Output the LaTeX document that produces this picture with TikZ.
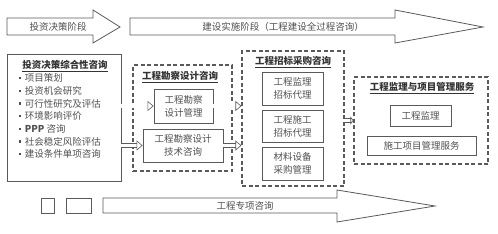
\documentclass[tikz,border=0pt]{standalone}
\usepackage{fontspec}
\setmainfont{Noto Sans CJK SC}
\usetikzlibrary{arrows.meta,positioning}
\definecolor{linegray}{HTML}{5A5A5A}
\definecolor{txtgray}{HTML}{505050}

\tikzset{
  box/.style={draw=linegray, line width=0.8pt, align=center, inner sep=0pt,
    font=\fontsize{9.5}{13}\selectfont, text=txtgray},
  group/.style={draw=linegray, line width=1.1pt, dash pattern=on 4pt off 2.5pt, inner sep=0pt},
  title/.style={font=\fontsize{9.5}{12}\selectfont\bfseries, text=black!80, inner sep=0pt},
  item/.style={font=\fontsize{9.5}{12}\selectfont, text=txtgray, inner sep=0pt, anchor=west},
  stage/.style={draw=linegray, line width=0.8pt, fill=white},
  stagetext/.style={font=\fontsize{9.5}{12}\selectfont, text=txtgray, inner sep=0pt},
  flow/.style={draw=linegray, line width=0.6pt, double=white, double distance=3.5pt,
    -{Triangle[open,length=6pt,width=10pt]}}
}
\newcommand{\sqbullet}{\rule[2.5pt]{2.2pt}{2.2pt}\hspace{3.5pt}}

\begin{document}
\begin{tikzpicture}[x=1pt,y=-1pt]
\useasboundingbox (0,0) rectangle (498,233);

% stage arrows
\draw[stage] (7,18) -- (93,18) -- (93,10) -- (120,27) -- (93,43) -- (93,35) -- (7,35) -- cycle;
\node[stagetext] (s1) at (58,27) {投资决策阶段};
\draw[stage] (130,18) -- (395,18) -- (395,10) -- (483,27) -- (395,43) -- (395,35) -- (130,35) -- cycle;
\node[stagetext] (s2) at (283,27) {建设实施阶段（工程建设全过程咨询）};

% investment decision
\node[box, minimum width=114pt, minimum height=127pt] (inv) at (64,117.5) {};
\node[title] (invt) at (65,66) {\underline{投资决策综合性咨询}};
\foreach \t [count=\i from 0] in {项目策划,投资机会研究,可行性研究及评估,环境影响评价,{\textbf{PPP} 咨询},社会稳定风险评估,建设条件单项咨询}
  \node[item] (it\i) at (19,78+12.7*\i) {\sqbullet\t};

% survey and design
\node[group, minimum width=99pt, minimum height=106pt] (kc) at (182.5,118) {};
\node[title] (kct) at (180,77) {\underline{工程勘察设计咨询}};
\node[box, minimum width=59pt, minimum height=34pt] (kcA) at (183.5,106) {工程勘察\\设计管理};
\node[box, minimum width=80pt, minimum height=33pt] (kcB) at (183,145.5) {工程勘察设计\\技术咨询};

% tendering and procurement
\node[group, minimum width=102pt, minimum height=135pt] (zb) at (293,118.5) {};
\node[title] (zbt) at (293,62) {\underline{工程招标采购咨询}};
\node[box, minimum width=61pt, minimum height=33pt] (zb1) at (292.5,88.5) {工程监理\\招标代理};
\node[box, minimum width=61pt, minimum height=32pt] (zb2) at (292.5,126) {工程施工\\招标代理};
\node[box, minimum width=61pt, minimum height=33pt] (zb3) at (292.5,163.5) {材料设备\\采购管理};

% supervision and management
\node[group, minimum width=134pt, minimum height=87pt] (jl) at (421,120.5) {};
\node[title] (jlt) at (422,88) {\underline{工程监理与项目管理服务}};
\node[box, minimum width=61pt, minimum height=21pt] (jl1) at (420.5,115.5) {工程监理};
\node[box, minimum width=109pt, minimum height=19pt] (jl2) at (421.5,145.5) {施工项目管理服务};

% flows
\draw[flow] (inv.east |- kcA) -- (kcA);
\draw[flow] (inv.east |- kcB) -- (kcB);
\draw[flow] (kcA.east) -- (kcA.east -| zb.west);
\draw[flow] (kcB.east) -- (kcB.east -| zb.west);
\draw[flow, -{Triangle[open,length=3pt,width=8pt]}] (zb.east |- jl) -- (jl.west);

% special consulting
\node[box, minimum width=13pt, minimum height=15pt] (sp1) at (47.5,205.5) {};
\node[box, minimum width=25pt, minimum height=15pt] (sp2) at (78.5,205.5) {};
\draw[stage] (103,198) -- (337,198) -- (337,190) -- (435,206) -- (337,222) -- (337,213) -- (103,213) -- cycle;
\node[stagetext] (s3) at (245,206) {工程专项咨询};
\end{tikzpicture}
\end{document}
